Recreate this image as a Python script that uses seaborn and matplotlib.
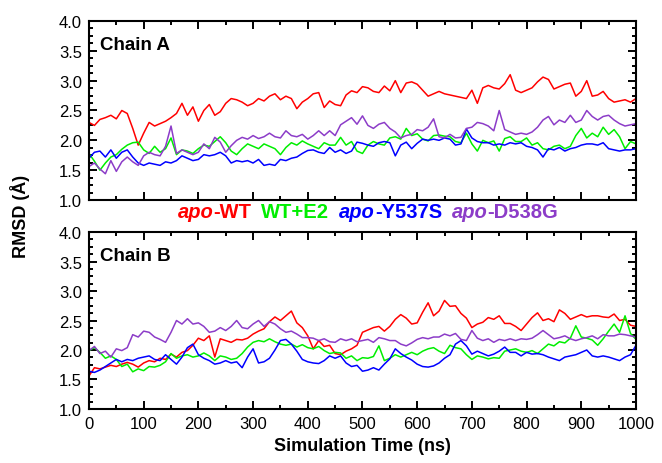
import pandas as pd
import matplotlib
matplotlib.use("Agg")
import matplotlib.pyplot as plt
import seaborn as sns
from matplotlib.ticker import MultipleLocator, FormatStrFormatter
from matplotlib.offsetbox import TextArea, HPacker, AnchoredOffsetbox

# simulation time, one reading every 10 ns
time_ns = list(range(0, 1001, 10))

systems = ["apo-WT", "WT+E2", "apo-Y537S", "apo-D538G"]
colors = ["#ff0000", "#00ee00", "#0000ff", "#8c3cc8"]

# ---- Chain A RMSD (A) ----
a_wt = [2.30, 2.25, 2.35, 2.38, 2.42, 2.36, 2.50, 2.45, 2.20, 1.92,
        2.12, 2.30, 2.24, 2.28, 2.32, 2.38, 2.45, 2.62, 2.42, 2.56,
        2.32, 2.50, 2.60, 2.42, 2.48, 2.62, 2.70, 2.68, 2.64, 2.58,
        2.62, 2.70, 2.66, 2.74, 2.78, 2.68, 2.74, 2.70, 2.53, 2.64,
        2.70, 2.78, 2.80, 2.55, 2.66, 2.60, 2.58, 2.76, 2.83, 2.80,
        2.90, 2.88, 2.82, 2.80, 2.91, 2.83, 3.00, 2.80, 2.96, 2.98,
        2.94, 2.84, 2.74, 2.78, 2.82, 2.78, 2.76, 2.74, 2.72, 2.70,
        2.84, 2.62, 2.88, 2.92, 2.88, 2.86, 2.95, 3.10, 2.84, 2.80,
        2.84, 2.88, 2.98, 3.06, 3.02, 2.86, 2.90, 2.94, 2.96, 2.74,
        2.82, 3.00, 2.74, 2.76, 2.82, 2.70, 2.64, 2.66, 2.68, 2.64, 2.70]
a_e2 = [1.78, 1.65, 1.50, 1.62, 1.72, 1.76, 1.85, 1.92, 1.96, 1.97,
        1.84, 1.78, 1.90, 1.80, 1.86, 2.04, 1.76, 1.84, 1.82, 1.78,
        1.86, 1.92, 1.90, 1.98, 2.06, 1.96, 1.82, 1.76, 1.86, 1.94,
        1.90, 1.86, 1.94, 1.90, 1.86, 1.76, 1.88, 1.96, 1.92, 1.99,
        1.94, 1.90, 1.86, 1.96, 1.92, 1.92, 2.05, 1.92, 1.98, 1.82,
        1.78, 1.92, 1.98, 1.94, 1.92, 2.04, 2.06, 2.02, 2.20, 2.08,
        2.11, 2.02, 1.99, 2.08, 2.09, 2.07, 2.06, 1.98, 1.96, 2.12,
        1.94, 1.82, 2.00, 1.96, 1.99, 1.82, 2.03, 2.06, 1.98, 1.98,
        2.04, 1.92, 1.96, 1.86, 1.84, 1.90, 1.92, 1.86, 1.90, 2.08,
        2.20, 2.04, 2.12, 2.06, 2.22, 2.10, 2.18, 2.06, 1.86, 1.98, 1.94]
a_y537s = [1.70, 1.80, 1.82, 1.72, 1.84, 1.70, 1.80, 1.84, 1.72, 1.62,
           1.58, 1.62, 1.60, 1.58, 1.64, 1.62, 1.66, 1.74, 1.70, 1.66,
           1.68, 1.76, 1.74, 1.76, 1.80, 1.74, 1.62, 1.66, 1.64, 1.66,
           1.62, 1.68, 1.58, 1.60, 1.58, 1.68, 1.66, 1.70, 1.72, 1.78,
           1.83, 1.84, 1.80, 1.78, 1.88, 1.80, 1.84, 1.78, 1.82, 1.97,
           1.95, 1.92, 1.90, 1.96, 1.98, 1.96, 1.74, 1.92, 1.97, 1.86,
           1.95, 2.02, 2.00, 2.02, 2.00, 2.04, 2.02, 1.92, 1.94, 2.19,
           2.04, 1.98, 1.96, 1.96, 1.92, 1.94, 1.92, 1.96, 1.94, 1.96,
           1.90, 1.88, 1.84, 1.72, 1.86, 1.84, 1.88, 1.82, 1.86, 1.88,
           1.92, 1.94, 1.94, 1.92, 1.96, 1.86, 1.84, 1.82, 1.84, 1.84, 1.86]
a_d538g = [1.56, 1.62, 1.52, 1.44, 1.66, 1.48, 1.64, 1.72, 1.64, 1.58,
           1.74, 1.80, 1.76, 1.74, 1.90, 2.24, 1.78, 1.84, 1.80, 1.76,
           1.80, 1.94, 1.86, 2.05, 1.97, 1.80, 1.91, 2.00, 2.05, 2.02,
           2.08, 2.03, 2.06, 2.12, 2.06, 2.04, 2.16, 2.08, 2.06, 2.10,
           2.02, 2.08, 2.16, 2.08, 2.16, 2.08, 2.26, 2.32, 2.38, 2.27,
           2.41, 2.25, 2.20, 2.27, 2.30, 2.20, 2.14, 2.04, 2.08, 2.10,
           2.18, 2.16, 2.22, 2.36, 2.06, 2.04, 2.10, 2.04, 2.05, 2.20,
           2.22, 2.30, 2.28, 2.24, 2.16, 2.50, 2.18, 2.14, 2.10, 2.12,
           2.10, 2.14, 2.22, 2.34, 2.40, 2.26, 2.34, 2.30, 2.42, 2.30,
           2.34, 2.50, 2.40, 2.34, 2.40, 2.42, 2.34, 2.28, 2.24, 2.26, 2.28]

# ---- Chain B RMSD (A) ----
b_wt = [1.56, 1.70, 1.68, 1.71, 1.74, 1.72, 1.76, 1.79, 1.76, 1.71,
        1.78, 1.82, 1.80, 1.86, 1.84, 1.93, 1.88, 1.96, 1.99, 2.08,
        2.20, 2.16, 2.24, 1.88, 2.19, 2.16, 2.13, 2.18, 2.17, 2.20,
        2.27, 2.32, 2.36, 2.48, 2.56, 2.50, 2.58, 2.66, 2.46, 2.38,
        2.24, 2.02, 2.16, 2.06, 2.08, 1.94, 1.92, 1.98, 2.02, 2.08,
        2.30, 2.34, 2.38, 2.40, 2.32, 2.40, 2.52, 2.60, 2.54, 2.44,
        2.46, 2.64, 2.80, 2.58, 2.66, 2.84, 2.74, 2.75, 2.62, 2.54,
        2.38, 2.44, 2.47, 2.55, 2.52, 2.58, 2.45, 2.45, 2.40, 2.33,
        2.44, 2.55, 2.63, 2.50, 2.53, 2.48, 2.68, 2.62, 2.52, 2.56,
        2.60, 2.56, 2.58, 2.58, 2.56, 2.55, 2.61, 2.50, 2.52, 2.42, 2.40]
b_e2 = [1.99, 2.04, 1.96, 1.86, 1.90, 1.84, 1.72, 1.76, 1.63, 1.68,
        1.65, 1.72, 1.71, 1.74, 1.80, 1.94, 1.86, 1.90, 1.92, 1.88,
        1.90, 1.95, 1.90, 1.82, 1.90, 1.88, 1.84, 1.86, 1.94, 2.05,
        2.13, 2.16, 2.14, 2.19, 2.14, 2.10, 2.08, 2.10, 2.05, 2.09,
        2.04, 2.02, 2.06, 1.99, 1.94, 1.96, 1.95, 1.86, 1.90, 1.82,
        1.87, 1.86, 1.89, 2.07, 1.82, 1.86, 1.92, 1.88, 1.92, 1.96,
        1.92, 1.98, 2.02, 2.04, 1.98, 1.94, 2.08, 2.04, 2.02, 1.92,
        1.84, 1.90, 1.88, 1.85, 1.87, 1.86, 1.98, 2.00, 2.02, 1.98,
        1.96, 1.99, 1.94, 2.02, 2.10, 2.07, 2.14, 2.12, 2.20, 2.41,
        2.22, 2.20, 2.17, 2.08, 2.19, 2.32, 2.44, 2.30, 2.58, 2.28, 2.18]
b_y537s = [1.64, 1.62, 1.66, 1.72, 1.78, 1.84, 1.80, 1.84, 1.82, 1.86,
           1.88, 1.90, 1.84, 1.82, 1.92, 1.84, 1.76, 1.88, 2.04, 2.10,
           1.92, 1.86, 1.82, 1.76, 1.78, 1.82, 1.78, 1.80, 1.70, 1.88,
           2.02, 1.78, 1.80, 1.86, 2.00, 2.16, 2.18, 2.10, 1.98, 1.84,
           1.80, 1.78, 1.77, 1.82, 1.90, 1.86, 1.90, 1.78, 1.72, 1.74,
           1.64, 1.66, 1.70, 1.66, 1.76, 1.85, 2.02, 1.94, 1.88, 1.83,
           1.76, 1.72, 1.71, 1.73, 1.78, 1.86, 1.92, 2.10, 2.16, 2.07,
           1.93, 1.98, 1.94, 1.90, 1.93, 1.98, 2.05, 1.96, 1.96, 1.90,
           1.96, 1.93, 1.94, 1.92, 1.88, 1.85, 1.82, 1.88, 1.90, 1.92,
           1.96, 2.00, 1.90, 1.88, 1.90, 1.88, 1.85, 1.82, 1.88, 1.92, 2.08]
b_d538g = [1.99, 2.06, 1.94, 1.98, 1.88, 2.02, 1.99, 2.04, 2.26, 2.22,
           2.32, 2.30, 2.22, 2.18, 2.13, 2.30, 2.50, 2.44, 2.53, 2.44,
           2.46, 2.40, 2.30, 2.32, 2.38, 2.33, 2.40, 2.50, 2.38, 2.36,
           2.44, 2.50, 2.40, 2.48, 2.44, 2.36, 2.30, 2.32, 2.27, 2.21,
           2.21, 2.20, 2.16, 2.19, 2.14, 2.13, 2.19, 2.16, 2.19, 2.14,
           2.16, 2.18, 2.13, 2.21, 2.19, 2.16, 2.16, 2.10, 2.07, 2.12,
           2.18, 2.21, 2.19, 2.22, 2.22, 2.27, 2.24, 2.28, 2.18, 2.16,
           2.33, 2.20, 2.16, 2.19, 2.13, 2.18, 2.16, 2.19, 2.16, 2.19,
           2.18, 2.20, 2.26, 2.33, 2.26, 2.19, 2.21, 2.24, 2.19, 2.16,
           2.19, 2.21, 2.24, 2.19, 2.26, 2.24, 2.24, 2.27, 2.26, 2.24, 2.22]


def long_df(series):
    parts = []
    for name, vals in zip(systems, series):
        parts.append(pd.DataFrame({"time": time_ns, "rmsd": vals, "system": name}))
    return pd.concat(parts, ignore_index=True)


dfA = long_df([a_wt, a_e2, a_y537s, a_d538g])
dfB = long_df([b_wt, b_e2, b_y537s, b_d538g])

sns.set_style("ticks")
plt.rcParams["font.family"] = ["Liberation Sans", "DejaVu Sans"]
plt.rcParams.update({"text.color": "black", "axes.edgecolor": "black",
                     "axes.labelcolor": "black", "xtick.color": "black",
                     "ytick.color": "black"})

fig = plt.figure(figsize=(6.62, 4.64), dpi=100)
axA = fig.add_axes([0.1344, 0.5668, 0.8263, 0.3858])
axB = fig.add_axes([0.1344, 0.1164, 0.8263, 0.3814])

for ax, df, chain in [(axA, dfA, "Chain A"), (axB, dfB, "Chain B")]:
    sns.lineplot(data=df, x="time", y="rmsd", hue="system", hue_order=systems,
                 palette=colors, estimator=None, linewidth=1.1, legend=False, ax=ax)
    ax.set_xlim(0, 1000)
    ax.set_ylim(1.0, 4.0)
    ax.xaxis.set_major_locator(MultipleLocator(100))
    ax.xaxis.set_minor_locator(MultipleLocator(50))
    ax.yaxis.set_major_locator(MultipleLocator(0.5))
    ax.yaxis.set_minor_locator(MultipleLocator(0.125))
    ax.yaxis.set_major_formatter(FormatStrFormatter("%.1f"))
    ax.tick_params(which="both", direction="in", top=True, right=True,
                   width=1.4, labelsize=12, pad=5, colors="black")
    ax.tick_params(which="major", length=6)
    ax.tick_params(which="minor", length=3)
    for s in ax.spines.values():
        s.set_linewidth(1.5)
        s.set_color("black")
    ax.set_xlabel("")
    ax.set_ylabel("")
    ax.text(0.02, 0.87, chain, transform=ax.transAxes, fontsize=13.5,
            fontweight="bold", va="center", ha="left", color="black")

axA.tick_params(labelbottom=False)

fig.text(0.03, 0.534, "RMSD (Å)", rotation=90, fontsize=13, fontweight="bold",
         ha="center", va="center", color="black")
fig.text(0.547, 0.037, "Simulation Time (ns)", fontsize=13, fontweight="bold",
         ha="center", va="center", color="black")

# coloured legend text between the panels
entries = [("apo", "-WT"), ("", "WT+E2"), ("apo", "-Y537S"), ("apo", "-D538G")]
groups = []
for (it, rest), c in zip(entries, colors):
    boxes = []
    if it:
        boxes.append(TextArea(it, textprops=dict(color=c, fontsize=14.5,
                                                 fontweight="bold", style="italic")))
    boxes.append(TextArea(rest, textprops=dict(color=c, fontsize=14.5, fontweight="bold")))
    groups.append(HPacker(children=boxes, pad=0, sep=0))
legend_box = HPacker(children=groups, pad=0, sep=7)
fig.add_artist(AnchoredOffsetbox(loc="center", child=legend_box, frameon=False,
                                 pad=0, borderpad=0,
                                 bbox_to_anchor=(0.556, 0.541),
                                 bbox_transform=fig.transFigure))

fig.savefig("out.png", dpi=100)
